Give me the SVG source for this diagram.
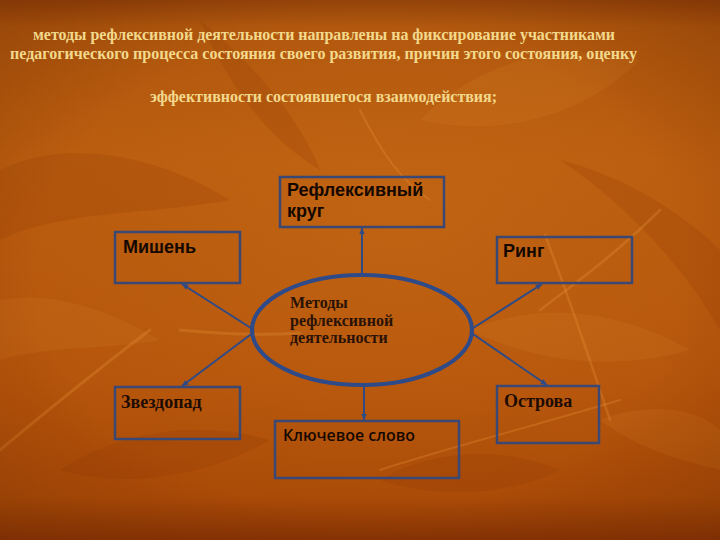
<svg xmlns="http://www.w3.org/2000/svg" width="720" height="540" viewBox="0 0 720 540">
  <defs>
    <linearGradient id="bg" x1="0" y1="0" x2="0" y2="1">
      <stop offset="0" stop-color="#8e3e08"/>
      <stop offset="0.05" stop-color="#ad540c"/>
      <stop offset="0.3" stop-color="#b95c0e"/>
      <stop offset="0.7" stop-color="#b5540b"/>
      <stop offset="0.92" stop-color="#a94a07"/>
      <stop offset="1" stop-color="#863204"/>
    </linearGradient>
    <radialGradient id="glow" cx="0.55" cy="0.4" r="0.6">
      <stop offset="0" stop-color="#cc701a" stop-opacity="0.4"/>
      <stop offset="1" stop-color="#cc701a" stop-opacity="0"/>
    </radialGradient>
    <radialGradient id="vign" cx="0.5" cy="0.5" r="0.75">
      <stop offset="0.6" stop-color="#6a2a02" stop-opacity="0"/>
      <stop offset="1" stop-color="#6a2a02" stop-opacity="0.35"/>
    </radialGradient>
    <marker id="arr" viewBox="0 0 10 10" refX="9" refY="5" markerWidth="7" markerHeight="7" markerUnits="userSpaceOnUse" orient="auto">
      <path d="M0,1 L10,5 L0,9 z" fill="#2f4b86"/>
    </marker>
    <style>
      .title { font-family: "Liberation Serif", "Times New Roman", serif; font-weight: bold; font-size: 16px; fill: #f3d98c; }
      .box { fill: none; stroke: #3a4875; stroke-width: 2.5; }
      .sans { font-family: "Liberation Sans", Arial, sans-serif; font-weight: bold; font-size: 18px; fill: #140800; }
      .serif { font-family: "Liberation Serif", "Times New Roman", serif; font-weight: bold; font-size: 18px; fill: #1e0c02; }
      .calib { font-family: "Open Sans", "Liberation Sans", sans-serif; font-weight: 600; font-size: 16px; fill: #140800; }
      .etext { font-family: "Liberation Serif", "Times New Roman", serif; font-weight: bold; font-size: 16px; fill: #2a1206; }
      .conn { stroke: #2f4b86; stroke-width: 2; fill: none; marker-end: url(#arr); }
      .leafL { fill: #e08a2c; opacity: 0.15; }
      .leafD { fill: #8a3804; opacity: 0.2; }
      .streak { stroke: #eea040; stroke-opacity: 0.25; fill: none; stroke-linecap: round; }
    </style>
  </defs>

  <!-- background -->
  <rect x="0" y="0" width="720" height="540" fill="url(#bg)"/>
  <rect x="0" y="0" width="720" height="540" fill="url(#glow)"/>
  <g id="leaves">
    <path class="leafD" d="M0,170 C60,140 150,150 230,200 C150,215 60,210 0,240 z"/>
    <path class="leafL" d="M420,120 C480,60 560,40 640,60 C590,110 510,140 420,120 z"/>
    <path class="leafD" d="M560,160 C620,200 680,260 720,330 L720,250 C680,210 620,175 560,160 z"/>
    <path class="leafL" d="M0,300 C50,290 110,310 160,340 C110,350 50,345 0,360 z"/>
    <path class="leafD" d="M60,470 C120,430 200,420 270,440 C210,475 130,490 60,470 z"/>
    <path class="leafL" d="M470,330 C540,300 620,310 690,350 C620,370 540,365 470,330 z"/>
    <path class="leafD" d="M200,20 C260,70 300,120 320,170 C270,140 230,90 200,20 z"/>
    <path class="leafL" d="M600,420 C650,400 700,410 720,430 L720,470 C680,460 640,450 600,420 z"/>
    <path class="leafD" d="M380,480 C430,450 500,445 560,470 C510,495 440,500 380,480 z"/>
    <path class="streak" stroke-width="3" d="M0,450 C60,400 110,360 150,330"/>
    <path class="streak" stroke-width="3" d="M180,330 C230,335 270,335 300,333"/>
    <path class="streak" stroke-width="2.5" d="M540,310 C580,280 620,250 660,210"/>
    <path class="streak" stroke-width="2.5" d="M545,235 C570,300 590,360 610,420"/>
    <path class="streak" stroke-width="2" d="M380,470 C440,450 520,430 620,400"/>
    <path class="streak" stroke-width="2" d="M360,110 C380,150 400,180 430,200"/>
  </g>
  <rect x="0" y="0" width="720" height="540" fill="url(#vign)"/>

  <!-- title -->
  <g id="title">
    <text class="title" x="33" y="40" textLength="582" lengthAdjust="spacingAndGlyphs">методы рефлексивной деятельности направлены на фиксирование участниками</text>
    <text class="title" x="10" y="59" textLength="627" lengthAdjust="spacingAndGlyphs">педагогического процесса состояния своего развития, причин этого состояния, оценку</text>
    <text class="title" x="150" y="102" textLength="347" lengthAdjust="spacingAndGlyphs">эффективности состоявшегося взаимодействия;</text>
  </g>

  <!-- connectors -->
  <g id="connectors">
    <line class="conn" x1="362" y1="273" x2="362" y2="228"/>
    <line class="conn" x1="254" y1="330" x2="182" y2="284"/>
    <line class="conn" x1="254" y1="332" x2="182" y2="386"/>
    <line class="conn" x1="470" y1="330" x2="542" y2="284"/>
    <line class="conn" x1="470" y1="332" x2="547" y2="385"/>
    <line class="conn" x1="364" y1="387" x2="364" y2="420"/>
  </g>

  <!-- center -->
  <g id="node-center">
    <ellipse cx="362" cy="330" rx="110" ry="55" fill="none" stroke="#2e4a88" stroke-width="4"/>
    <text class="etext" x="290" y="308">Методы</text>
    <text class="etext" x="290" y="326">рефлексивной</text>
    <text class="etext" x="290" y="343">деятельности</text>
  </g>

  <g id="node-reflex">
    <rect class="box" x="280" y="177" width="164" height="50"/>
    <text class="sans" x="287" y="196">Рефлексивный</text>
    <text class="sans" x="287" y="217">круг</text>
  </g>

  <g id="node-mishen">
    <rect class="box" x="115" y="232" width="125" height="51"/>
    <text class="sans" x="123" y="253">Мишень</text>
  </g>

  <g id="node-ring">
    <rect class="box" x="497" y="237" width="135" height="46"/>
    <text class="sans" x="503" y="257">Ринг</text>
  </g>

  <g id="node-zvezdopad">
    <rect class="box" x="115" y="387" width="125" height="52"/>
    <text class="serif" x="121" y="408">Звездопад</text>
  </g>

  <g id="node-key">
    <rect class="box" x="275" y="421" width="184" height="57"/>
    <text class="calib" x="283" y="441" textLength="132" lengthAdjust="spacingAndGlyphs">Ключевое слово</text>
  </g>

  <g id="node-ostrova">
    <rect class="box" x="497" y="386" width="102" height="57"/>
    <text class="serif" x="504" y="407">Острова</text>
  </g>
</svg>
